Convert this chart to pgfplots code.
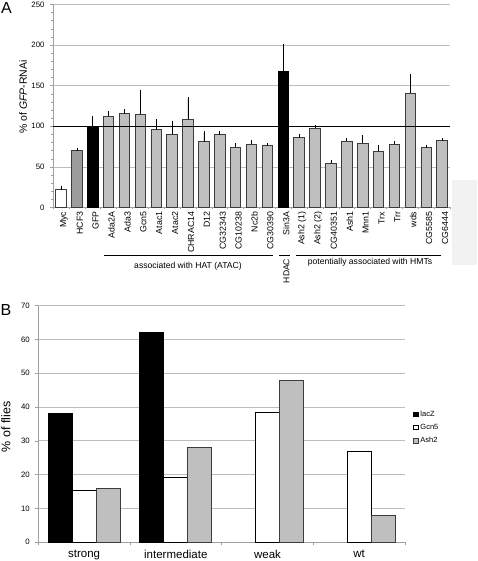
\documentclass[border=0pt]{standalone}
\usepackage{fontspec}
\setmainfont{Liberation Sans}
\usepackage{pgfplots}
\pgfplotsset{compat=1.18}
\definecolor{barg}{HTML}{BFBFBF}
\definecolor{darkg}{HTML}{9C9C9C}
\definecolor{gridg}{HTML}{BDBDBD}
\definecolor{axg}{HTML}{A0A0A0}
\definecolor{edge}{HTML}{3C3C3C}
\begin{document}
\begin{tikzpicture}[x=1pt,y=1pt]
\useasboundingbox (0,0) rectangle (477,561);
\fill[black!5] (452,296) rectangle (477,381);
% ---------------- Panel A ----------------
\begin{axis}[
  at={(53pt,353.5pt)}, anchor=south west,
  scale only axis, width=397pt, height=203pt,
  xmin=-0.5, xmax=24.5, ymin=0, ymax=250,
  axis x line*=bottom, axis y line*=left,
  axis line style={axg, line width=0.6pt},
  ytick={0,50,...,250}, minor y tick num=4,
  ymajorgrids, major grid style={gridg, line width=0.7pt},
  tick style={axg, line width=0.5pt}, tick align=outside,
  major tick length=3pt, minor tick length=2pt,
  xtick={0,...,24},
  xticklabels={Myc,HCF3,GFP,Ada2A,Ada3,Gcn5,Atac1,Atac2,CHRAC14,D12,CG32343,CG10238,Nc2b,CG30390,Sin3A,Ash2 (1),Ash2 (2),CG40351,Ash1,Mnn1,Trx,Trr,wds,CG5585,CG6444},
  major x tick style={draw=none},
  minor xtick={-0.5,0.5,...,24.5},
  xticklabel style={rotate=90, anchor=east, font=\fontsize{8.8}{10}\selectfont, inner sep=1pt, yshift=-3pt},
  yticklabel style={font=\fontsize{7.8}{9}\selectfont, xshift=-2pt},
  /pgf/number format/assume math mode=true,
  clip=false,
]
\addplot[ybar, bar shift=0pt, bar width=10.5pt, fill=white, draw=edge, line width=0.8pt,
  error bars/.cd, y dir=plus, y explicit, error bar style={black, line width=0.6pt}, error mark options={black, mark size=1.5pt, line width=0.6pt}]
  coordinates {(0,22) +- (0,2.5)};
\addplot[ybar, bar shift=0pt, bar width=10.5pt, fill=darkg, draw=edge, line width=0.8pt,
  error bars/.cd, y dir=plus, y explicit, error bar style={black, line width=0.6pt}, error mark options={black, mark size=1.5pt, line width=0.6pt}]
  coordinates {(1,70) +- (0,2)};
\addplot[ybar, bar shift=0pt, bar width=10.5pt, fill=black, draw=black, line width=0.8pt,
  error bars/.cd, y dir=plus, y explicit, error bar style={black, line width=0.6pt}, error mark options={black, mark size=1.5pt, line width=0.6pt}]
  coordinates {(2,100) +- (0,11) (14,167) +- (0,33)};
\addplot[ybar, bar shift=0pt, bar width=10.5pt, fill=barg, draw=edge, line width=0.8pt,
  error bars/.cd, y dir=plus, y explicit, error bar style={black, line width=0.6pt}, error mark options={black, mark size=1.5pt, line width=0.6pt}]
  coordinates {
  (3,112.5) +- (0,4.5)
  (4,115.5) +- (0,3.5)
  (5,115) +- (0,28)
  (6,96) +- (0,11)
  (7,90) +- (0,15)
  (8,108.5) +- (0,26)
  (9,81) +- (0,11)
  (10,89.5) +- (0,3)
  (11,74) +- (0,3)
  (12,78) +- (0,3)
  (13,77) +- (0,0)
  (15,86) +- (0,3)
  (16,98) +- (0,1.5)
  (17,54.5) +- (0,2)
  (18,82) +- (0,2)
  (19,79) +- (0,8)
  (20,69) +- (0,6)
  (21,78) +- (0,1.5)
  (22,141) +- (0,22)
  (23,73.5) +- (0,1.5)
  (24,82.5) +- (0,1.5)
  };
\draw[black, line width=1pt] (axis cs:-0.5,100) -- (axis cs:24.5,100);
\end{axis}
% group annotations
\draw[black, line width=1pt] (104,305.5) -- (273,305.5);
\node[font=\fontsize{8.6}{10}\selectfont] at (188,295) {associated with HAT (ATAC)};
\draw[black, line width=1pt] (279,305.5) -- (290,305.5);
\node[font=\fontsize{8.6}{10}\selectfont, rotate=90] at (286.5,290) {HDAC};
\draw[black, line width=1pt] (296,305.5) -- (441,305.5);
\node[font=\fontsize{8.6}{10}\selectfont] at (370,298.3) {potentially associated with HMTs};
\node[font=\fontsize{10.5}{12}\selectfont, rotate=90] at (23,464) {\% of \textit{GFP}-RNAi};
\node[font=\fontsize{16}{18}\selectfont] at (6.5,552.5) {A};
% ---------------- Panel B ----------------
\begin{axis}[
  at={(38.3pt,18.7pt)}, anchor=south west,
  scale only axis, width=366.7pt, height=236.6pt,
  xmin=0, xmax=4, ymin=0, ymax=70,
  ybar=0pt, bar width=24pt,
  axis x line*=bottom, axis y line*=left,
  axis line style={axg, line width=0.6pt},
  ytick={0,10,...,70},
  ymajorgrids, major grid style={gridg, line width=0.8pt},
  tick style={axg, line width=0.5pt}, tick align=outside,
  major tick length=3pt, minor tick length=3pt,
  xtick={0.5,1.5,2.5,3.5},
  xticklabels={strong,intermediate,weak,wt},
  major x tick style={draw=none},
  minor xtick={0,1,2,3,4},
  xticklabel style={font=\fontsize{11.5}{13}\selectfont, yshift=-1pt},
  yticklabel style={font=\fontsize{7.8}{9}\selectfont, xshift=-2pt},
  /pgf/number format/assume math mode=true,
  legend image code/.code={\draw[#1, line width=0.8pt] (0pt,-2.2pt) rectangle (4.4pt,2.2pt);},
  legend style={at={(1.022,0.565)}, anchor=north west, draw=none, fill=none,
    font=\fontsize{7.5}{9}\selectfont, row sep=2.5pt, inner sep=0pt,
    /tikz/every even column/.append style={column sep=0.5pt}},
  legend cell align=left,
  clip=false,
]
\addplot[fill=black, draw=black, line width=0.8pt] coordinates {(0.5,38) (1.5,62)};
\addlegendentry{lacZ}
\addplot[fill=white, draw=black, line width=0.8pt] coordinates {(0.5,15.3) (1.5,19.2) (2.5,38.4) (3.5,27)};
\addlegendentry{Gcn5}
\addplot[fill=barg, draw=edge, line width=0.8pt] coordinates {(0.5,16) (1.5,28) (2.5,48) (3.5,8)};
\addlegendentry{Ash2}
\end{axis}
\node[font=\fontsize{12.5}{14}\selectfont, rotate=90] at (6,134) {\% of flies};
\node[font=\fontsize{16}{18}\selectfont] at (6,251) {B};
\end{tikzpicture}
\end{document}
